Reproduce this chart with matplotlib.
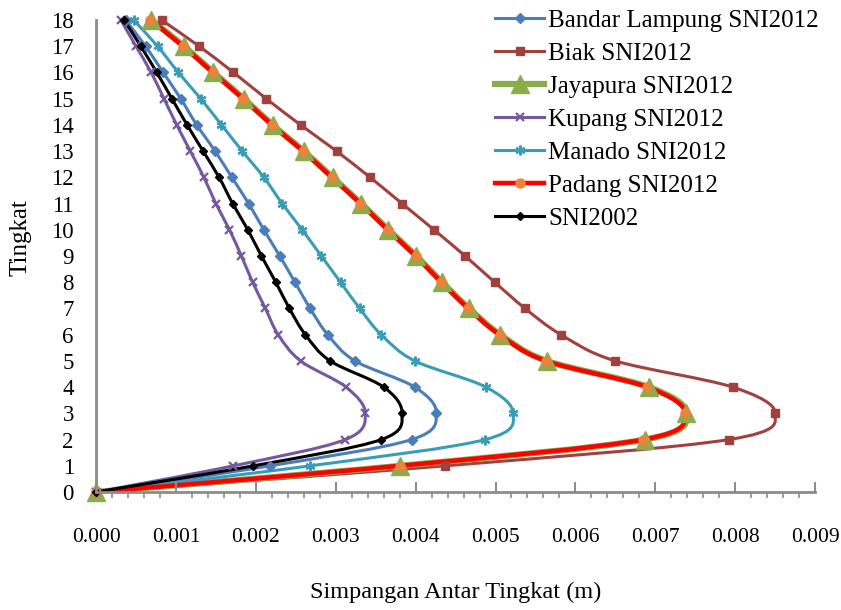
import numpy as np
import matplotlib.pyplot as plt
from matplotlib.path import Path
from matplotlib.patches import PathPatch
from matplotlib.lines import Line2D
from matplotlib.ticker import MultipleLocator

plt.rcParams['font.family'] = ['Liberation Serif', 'DejaVu Serif']

# storey levels 0..18 and inter-storey drift (m) for each design case
tingkat = list(range(19))

bandar_lampung = [0, 0.00218, 0.00395, 0.00426, 0.00399, 0.00324, 0.00290, 0.00268, 0.00249,
                  0.00230, 0.00210, 0.00191, 0.00170, 0.00149, 0.00126, 0.00106, 0.00084,
                  0.00062, 0.00037]
biak = [0, 0.00437, 0.00792, 0.00850, 0.00797, 0.00650, 0.00582, 0.00537, 0.00499,
        0.00462, 0.00423, 0.00383, 0.00343, 0.00301, 0.00256, 0.00213, 0.00172,
        0.00129, 0.00082]
jayapura = [0, 0.00381, 0.00687, 0.00739, 0.00692, 0.00564, 0.00506, 0.00467, 0.00433,
            0.00401, 0.00366, 0.00332, 0.00296, 0.00260, 0.00221, 0.00185, 0.00147,
            0.00110, 0.00069]
kupang = [0, 0.00172, 0.00312, 0.00337, 0.00313, 0.00256, 0.00228, 0.00212, 0.00196,
          0.00182, 0.00167, 0.00150, 0.00135, 0.00118, 0.00101, 0.00085, 0.00069,
          0.00050, 0.00031]
manado = [0, 0.00268, 0.00487, 0.00522, 0.00488, 0.00399, 0.00357, 0.00330, 0.00306,
          0.00282, 0.00258, 0.00233, 0.00210, 0.00183, 0.00157, 0.00131, 0.00103,
          0.00077, 0.00047]
padang = [0, 0.00380, 0.00685, 0.00737, 0.00690, 0.00563, 0.00505, 0.00466, 0.00432,
          0.00400, 0.00365, 0.00331, 0.00295, 0.00259, 0.00220, 0.00184, 0.00146,
          0.00109, 0.00068]
sni2002 = [0, 0.00197, 0.00357, 0.00383, 0.00360, 0.00293, 0.00262, 0.00242, 0.00225,
           0.00207, 0.00190, 0.00171, 0.00154, 0.00134, 0.00114, 0.00095, 0.00076,
           0.00056, 0.00035]

xticks = [0.000, 0.001, 0.002, 0.003, 0.004, 0.005, 0.006, 0.007, 0.008, 0.009]

series = [
    ('Bandar Lampung SNI2012', bandar_lampung, dict(color='#4A7EBB', lw=2.2, marker='D', ms=5, mfc='#4A7EBB', mec='#4A7EBB', mew=1)),
    ('Biak SNI2012', biak, dict(color='#A0413E', lw=2.2, marker='s', ms=6, mfc='#A0413E', mec='#A0413E', mew=1)),
    ('Jayapura SNI2012', jayapura, dict(color='#8CAB4A', lw=4.5, marker='^', ms=13, mfc='#8CAB4A', mec='#8CAB4A', mew=1)),
    ('Kupang SNI2012', kupang, dict(color='#7558A0', lw=2.2, marker='x', ms=6, mfc='#7558A0', mec='#7558A0', mew=1.6)),
    ('Manado SNI2012', manado, dict(color='#3A9DB8', lw=2.2, marker=(6, 2, 0), ms=7, mfc='#3A9DB8', mec='#3A9DB8', mew=1.6)),
    ('Padang SNI2012', padang, dict(color='#FF0000', lw=3.2, marker='o', ms=6.5, mfc='#E8843C', mec='#E8843C', mew=1)),
    ('SNI2002', sni2002, dict(color='#000000', lw=2.2, marker='D', ms=4.5, mfc='#000000', mec='#000000', mew=1)),
]


def smooth_path(x, y):
    # Catmull-Rom style cubic Bezier through every point (spreadsheet "smoothed line")
    pts = np.column_stack([x, y]).astype(float)
    n = len(pts)
    verts = [pts[0]]
    codes = [Path.MOVETO]
    for i in range(n - 1):
        p0 = pts[i - 1] if i > 0 else pts[i]
        p1 = pts[i]
        p2 = pts[i + 1]
        p3 = pts[i + 2] if i + 2 < n else pts[i + 1]
        c1 = p1 + (p2 - p0) / 6.0
        c2 = p2 - (p3 - p1) / 6.0
        verts += [c1, c2, p2]
        codes += [Path.CURVE4] * 3
    return Path(verts, codes)


fig = plt.figure(figsize=(8.41, 6.10), dpi=100)
ax = fig.add_axes([0.1142, 0.1934, 0.855, 0.7738])

handles = []
for name, xs, st in series:
    ax.add_patch(PathPatch(smooth_path(xs, tingkat), fill=False, edgecolor=st['color'],
                           lw=st['lw'], capstyle='round', joinstyle='round'))
    ax.plot(xs, tingkat, linestyle='none', marker=st['marker'], ms=st['ms'],
            mfc=st['mfc'], mec=st['mec'], mew=st['mew'], clip_on=False)
    handles.append(Line2D([], [], color=st['color'], lw=st['lw'], marker=st['marker'], ms=st['ms'],
                          mfc=st['mfc'], mec=st['mec'], mew=st['mew']))

ax.set_xlim(0, 0.009)
ax.set_ylim(0, 18)
ax.set_xticks(xticks)
ax.set_xticklabels(['%.3f' % v for v in xticks])
ax.xaxis.set_minor_locator(MultipleLocator(0.0002))
ax.set_yticks(tingkat)

for s in ['top', 'right']:
    ax.spines[s].set_visible(False)
for s in ['left', 'bottom']:
    ax.spines[s].set_color('#8C8C8C')
    ax.spines[s].set_linewidth(2)

ax.tick_params(axis='x', which='major', direction='in', length=7, width=1.5, color='#8C8C8C',
               labelsize=15.5, pad=26)
ax.tick_params(axis='x', which='minor', direction='out', length=4, width=1.2, color='#8C8C8C')
ax.tick_params(axis='y', length=0, labelsize=16.5, pad=16)

ax.set_xlabel('Simpangan Antar Tingkat (m)', fontsize=17.5)
ax.xaxis.set_label_coords(0.5, -0.19)
ax.set_ylabel('Tingkat', fontsize=18)
ax.yaxis.set_label_coords(-0.09, 0.54)

ax.legend(handles, [s[0] for s in series], loc='upper left', bbox_to_anchor=(495 / 841, 0.985),
          bbox_transform=fig.transFigure, frameon=False, fontsize=18, handlelength=1.96,
          handletextpad=0.16, labelspacing=0.42, borderpad=0, borderaxespad=0)

fig.savefig('out.png', dpi=100)
